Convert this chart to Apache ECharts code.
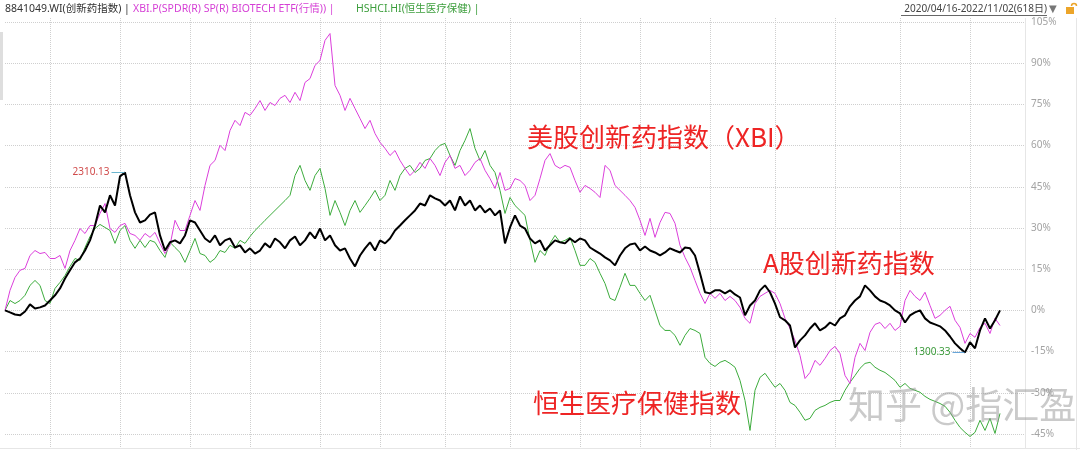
<!DOCTYPE html>
<html>
<head>
<meta charset="utf-8">
<script src="https://cdn.jsdelivr.net/npm/echarts@6/dist/echarts.min.js"></script>
<style>
html,body{margin:0;padding:0;background:#fff;}
#chart{width:1080px;height:450px;}
</style>
</head>
<body>
<div id="chart"></div>
<script>
// Cumulative return (%) since 2020/04/16, sampled evenly over the 618 trading days
const aShareInnov = [
0,-0.7,-1.5,-1.8,-0.4,2.2,0.7,1.1,1.8,3.6,
5.5,8.0,11.6,14.6,17.5,18.9,21.8,25.5,30.9,38.2,
35.7,41.9,38.2,48.8,50.2,41.9,35.7,32.0,32.8,34.9,
35.7,27.3,21.8,24.8,25.5,24.4,27.3,32.8,32.0,29.1,
26.2,24.8,27.3,23.7,25.5,26.2,22.9,23.7,21.1,22.6,
20.7,21.8,24.4,22.9,26.2,24.8,22.6,25.5,26.9,23.7,
25.5,28.4,26.2,29.8,25.5,27.3,23.7,21.8,22.6,18.9,
16.0,20.0,22.6,24.8,21.8,25.5,24.4,26.2,29.1,30.9,
32.8,34.6,36.4,38.9,38.2,41.9,40.8,40.0,38.2,40.0,
36.4,41.5,38.2,40.0,36.4,38.2,35.7,37.1,34.6,36.4,
24.4,30.2,34.6,30.9,29.8,26.2,24.4,25.5,21.8,23.7,
25.5,24.8,24.4,26.2,24.8,26.2,25.5,22.9,21.8,20.7,
19.3,18.2,16.4,20.0,22.6,24.0,24.4,21.8,23.3,21.8,
21.1,20.0,21.1,22.6,21.8,21.1,22.9,22.6,20.0,13.5,
6.6,6.2,7.3,7.3,6.2,7.3,5.8,4.7,-1.8,1.8,
3.6,7.3,9.1,6.6,2.5,-2.5,-3.6,-5.5,-13.5,-10.9,
-9.1,-6.6,-4.7,-7.3,-6.2,-4.4,-5.5,-2.9,-1.8,1.5,
3.6,5.1,9.1,7.3,5.1,3.6,2.9,1.8,0,-1.1,
-4.4,-1.8,-0.7,0,-2.9,-4.4,-5.1,-5.8,-7.3,-9.5,
-12.0,-13.8,-15.3,-11.6,-13.8,-7.3,-2.9,-6.6,-3.6,0
];
const xbi = [
0,7.3,12.0,14.6,15.3,20.0,21.8,20.7,21.1,18.9,
18.9,20.0,15.3,21.8,25.5,29.8,28.0,30.9,30.9,35.3,
38.9,29.8,28.4,30.9,31.7,28.0,27.3,25.5,28.0,26.6,
28.4,24.4,20.7,23.7,32.8,29.1,29.1,34.6,40.0,36.4,
45.5,52.8,54.6,60.1,58.2,65.5,69.2,67.3,72.1,71.0,
73.5,76.4,72.8,75.7,74.6,77.2,78.3,75.7,79.4,76.4,
83.0,84.4,89.2,91.0,98.3,100.8,81.9,78.3,72.8,77.2,
73.5,69.9,66.2,69.2,64.4,61.2,59.0,56.4,58.2,54.6,
51.7,49.1,51.0,53.9,51.7,55.3,52.8,49.1,53.9,56.4,
51.7,52.8,49.1,51.0,53.9,55.3,51.0,48.0,44.4,50.2,
43.7,44.4,48.0,47.3,45.5,40.0,41.9,48.0,54.6,57.1,
52.8,51.7,52.8,52.1,47.3,43.0,45.5,44.4,43.0,41.1,
52.8,51.0,45.5,43.7,41.9,40.0,37.5,32.8,27.3,33.5,
26.6,32.0,35.7,35.3,31.7,23.7,19.3,15.7,10.9,6.2,
2.5,6.2,4.4,6.2,3.6,5.1,3.6,1.1,-2.9,-4.7,
2.5,5.1,6.2,7.3,6.2,2.5,-2.9,-6.6,-10.9,-16.4,
-24.8,-22.6,-18.2,-20.0,-17.5,-14.6,-13.1,-15.7,-23.7,-26.6,
-17.1,-12.0,-14.6,-8.0,-5.1,-4.4,-6.6,-4.7,-7.3,-5.8,
3.6,7.3,5.1,3.6,6.6,1.8,-2.9,-1.8,0,1.5,
-3.6,-6.2,-12.0,-8.4,-9.8,-6.2,-4.7,-8.4,-2.9,-5.5
];
const hshci = [
0,3.6,2.5,3.6,5.5,9.1,10.9,9.1,3.6,2.5,
8.0,10.2,12.7,16.0,18.9,18.2,22.9,26.9,29.8,31.3,
30.2,29.1,24.4,29.1,30.9,25.5,22.6,25.5,22.9,25.5,
24.8,21.8,19.3,24.8,22.9,21.1,17.5,21.8,26.2,20.7,
20.0,17.5,18.9,21.8,21.1,23.7,22.6,25.5,24.4,26.9,
29.1,30.9,32.8,34.6,36.4,38.2,40.0,41.9,49.1,52.8,
47.3,43.7,49.1,51.7,44.4,34.6,40.0,35.7,30.9,36.4,
40.0,35.7,38.2,40.8,43.7,40.0,41.9,47.3,43.7,49.1,
51.7,52.8,50.2,51.7,54.6,55.3,58.2,60.1,60.8,56.4,
52.8,58.2,61.9,66.2,59.0,54.6,58.2,52.8,50.2,43.7,
35.3,41.1,38.2,36.4,34.6,25.5,17.5,21.8,20.0,24.4,
27.3,24.8,25.5,26.6,21.8,16.4,16.4,18.9,17.5,13.5,
9.8,4.4,3.6,8.4,13.5,9.1,9.1,6.2,3.6,5.5,
0,-5.5,-7.3,-7.3,-9.1,-12.7,-9.1,-6.6,-7.3,-8.4,
-17.1,-19.3,-20.4,-18.9,-18.2,-19.3,-20.7,-25.5,-32.8,-43.7,
-29.1,-24.4,-22.9,-25.5,-28.0,-26.6,-29.1,-33.5,-34.6,-37.1,
-40.0,-39.3,-36.4,-35.3,-34.6,-33.5,-32.8,-32.8,-29.1,-26.2,
-23.7,-21.1,-19.3,-18.9,-20.7,-21.8,-22.6,-24.0,-25.5,-28.0,
-26.6,-28.4,-29.1,-29.8,-31.3,-32.4,-33.1,-33.9,-34.9,-37.1,
-40.0,-42.6,-44.4,-45.9,-44.4,-40.0,-43.7,-39.3,-44.8,-37.5
];
// sample slots (200 data samples + a few empty slots to the right edge of the plot)
const categories = Array.from({length: 205}, (_, i) => i);
// sample slots where a two-month boundary falls (vertical grid lines)
const monthGridIdx = [9, 23, 37, 49, 63, 75, 88, 101, 115, 127, 141, 154, 166, 179, 193];
const yTicks = {min: -45, max: 105, step: 15};
const peakLabel = '2310.13';
const troughLabel = '1300.33';

const chart = echarts.init(document.getElementById('chart'), null, {renderer: 'canvas'});
const gridColor = '#cfcfcf';
const cjk = '"Noto Sans", "Noto Sans CJK SC", sans-serif';

const option = {
  animation: false,
  backgroundColor: '#ffffff',
  grid: [
    {left: 5, right: 55, top: 22, bottom: 16},
    {left: 5, right: 55, top: 18, bottom: 2}
  ],
  xAxis: [
    {type: 'category', gridIndex: 0, data: categories, boundaryGap: false,
     axisLine: {show: false}, axisTick: {show: false}, axisLabel: {show: false}, splitLine: {show: false}},
    {type: 'category', gridIndex: 1, data: categories, boundaryGap: false,
     axisLine: {show: false}, axisTick: {show: false}, axisLabel: {show: false},
     splitLine: {show: true, interval: (i) => monthGridIdx.includes(i),
       lineStyle: {type: 'dotted', color: gridColor, width: 1}}}
  ],
  yAxis: [
    {type: 'value', gridIndex: 0, position: 'right', min: yTicks.min, max: yTicks.max, interval: yTicks.step,
     axisLine: {show: false}, axisTick: {show: false},
     axisLabel: {color: '#a3a3a3', fontSize: 10, margin: 6, formatter: '{value}%', fontFamily: 'Noto Sans'},
     splitLine: {show: true, lineStyle: {type: 'dotted', color: gridColor, width: 1}}},
    {type: 'value', gridIndex: 1, show: false, min: 0, max: 1, splitLine: {show: false}}
  ],
  series: [
    {name: 'HSHCI.HI', type: 'line', data: hshci, showSymbol: false, clip: false,
     lineStyle: {color: '#3dac3d', width: 1}, itemStyle: {color: '#3dac3d'}, z: 2},
    {name: 'XBI.P', type: 'line', data: xbi, showSymbol: false, clip: false,
     lineStyle: {color: '#dc3fdc', width: 1}, itemStyle: {color: '#dc3fdc'}, z: 3},
    {name: '8841049.WI', type: 'line', data: aShareInnov, showSymbol: false, clip: false,
     lineStyle: {color: '#000000', width: 2}, itemStyle: {color: '#000000'}, z: 4,
     markPoint: {
       symbol: 'circle', symbolSize: 1, itemStyle: {color: 'rgba(0,0,0,0)'},
       data: [
         {type: 'max', name: 'max',
          label: {show: true, position: 'left', distance: 0,
            formatter: '{t|' + peakLabel + '}{l|}',
            rich: {t: {color: '#d04a4a', fontSize: 10, fontFamily: 'Noto Sans', verticalAlign: 'middle', padding: [0, 2, 0, 0]},
                   l: {width: 13, height: 1, backgroundColor: '#6bb6cf', verticalAlign: 'middle'}}}},
         {type: 'min', name: 'min',
          label: {show: true, position: 'left', distance: 0,
            formatter: '{t|' + troughLabel + '}{l|}',
            rich: {t: {color: '#3a9a3a', fontSize: 10, fontFamily: 'Noto Sans', verticalAlign: 'middle', padding: [0, 2, 0, 0]},
                   l: {width: 12, height: 1, backgroundColor: '#5d9fd6', verticalAlign: 'middle'}}}}
       ]
     }}
  ],
  graphic: {elements: [
    // header
    {type: 'text', x: 5, y: 9, style: {text: '8841049.WI(创新药指数) |', fill: '#333', font: '10.5px ' + cjk, verticalAlign: 'middle'}},
    {type: 'text', x: 133, y: 9, style: {text: 'XBI.P(SPDR(R) SP(R) BIOTECH ETF(行情)) |', fill: '#d53fd5', font: '10.5px ' + cjk, verticalAlign: 'middle'}},
    {type: 'text', x: 356, y: 9, style: {text: 'HSHCI.HI(恒生医疗保健) |', fill: '#3c9e3c', font: '10.5px ' + cjk, verticalAlign: 'middle'}},
    {type: 'text', x: 1047, y: 9, style: {text: '2020/04/16-2022/11/02(618日)', fill: '#444', font: '10px ' + cjk, align: 'right', verticalAlign: 'middle'}},
    {type: 'line', shape: {x1: 901, y1: 15.5, x2: 1047, y2: 15.5}, style: {stroke: '#666', lineWidth: 1}},
    {type: 'text', x: 1049, y: 9, style: {text: '▼', fill: '#777', font: '10px "DejaVu Sans"', verticalAlign: 'middle'}},
    {type: 'rect', shape: {x: 1066, y: 7, width: 8, height: 7}, style: {fill: '#eca52a'}},
    {type: 'arc', shape: {cx: 1074, cy: 6, r: 2.5, startAngle: Math.PI, endAngle: 0}, style: {stroke: '#eca52a', lineWidth: 1.5, fill: null}},
    // frame
    {type: 'rect', shape: {x: 0, y: 32, width: 3, height: 68}, style: {fill: '#dedede'}},
    {type: 'line', shape: {x1: 1025.5, y1: 18, x2: 1025.5, y2: 448}, style: {stroke: '#e6e6e6', lineWidth: 1}},
    {type: 'line', shape: {x1: 1076.5, y1: 18, x2: 1076.5, y2: 450}, style: {stroke: '#e6e6e6', lineWidth: 1}},
    {type: 'line', shape: {x1: 0, y1: 448.5, x2: 1080, y2: 448.5}, style: {stroke: '#e6e6e6', lineWidth: 1}},
    // annotations
    {type: 'text', x: 527, y: 137, z: 10, style: {text: '美股创新药指数（XBI）', fill: '#ee2424', font: '26px "Noto Sans CJK SC"', verticalAlign: 'middle'}},
    {type: 'text', x: 763, y: 263, z: 10, style: {text: 'A股创新药指数', fill: '#ee2424', font: '26px "Noto Sans CJK SC"', verticalAlign: 'middle'}},
    {type: 'text', x: 533, y: 403, z: 10, style: {text: '恒生医疗保健指数', fill: '#ee2424', font: '26px "Noto Sans CJK SC"', verticalAlign: 'middle'}},
    // watermark
    {type: 'text', x: 848, y: 405, z: 20, style: {text: '知乎 @指汇盈', fill: 'rgba(150,150,150,0.5)', font: '37px "Noto Sans CJK SC"', verticalAlign: 'middle'}}
  ]}
};
chart.setOption(option);
</script>
</body>
</html>
